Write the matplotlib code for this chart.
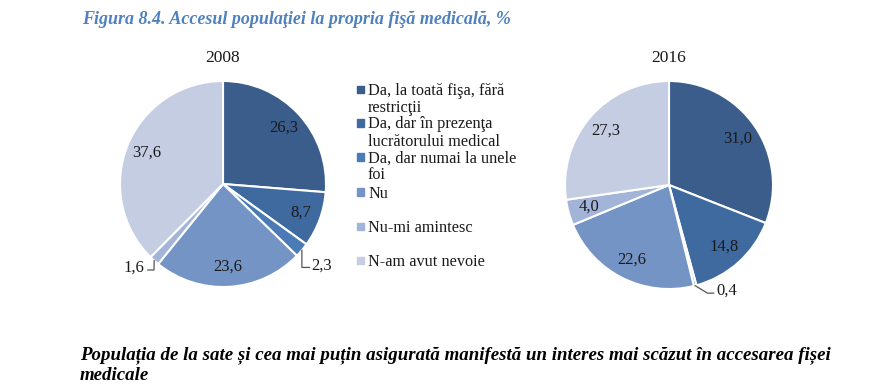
import numpy as np
import matplotlib
matplotlib.use("Agg")
import matplotlib.pyplot as plt

# data
categories = [
    ["Da, la toată fişa, fără", "restricţii"],
    ["Da, dar în prezenţa", "lucrătorului medical"],
    ["Da, dar numai la unele", "foi"],
    ["Nu"],
    ["Nu-mi amintesc"],
    ["N-am avut nevoie"],
]
values_2008 = [26.3, 8.7, 2.3, 23.6, 1.6, 37.6]
values_2016 = [31.0, 14.8, 0.4, 22.6, 4.0, 27.3]
colors = ["#3a5d8b", "#3f6a9f", "#4a7bb7", "#7394c5", "#a2b4d7", "#c4cde2"]

W, H = 896, 388
plt.rcParams["font.family"] = ["Liberation Serif", "DejaVu Serif"]
fig = plt.figure(figsize=(W / 100, H / 100), dpi=100)

TXT = "#1a1a1a"


def fmt(v):
    return f"{v:.1f}".replace(".", ",")


def pie_axes(cx, cy, r):
    return fig.add_axes([(cx - r) / W, (H - cy - r) / H, 2 * r / W, 2 * r / H])


def draw_pie(ax, values, title, outside):
    wedges, _ = ax.pie(values, colors=colors, startangle=90, counterclock=False,
                       wedgeprops=dict(edgecolor="white", linewidth=1.5))
    ax.set_xlim(-1, 1)
    ax.set_ylim(-1, 1)
    ax.axis("off")
    ax.set_title(title, fontsize=12.5, color=TXT, pad=14)
    for i, (w, v) in enumerate(zip(wedges, values)):
        mid = np.deg2rad((w.theta1 + w.theta2) / 2)
        x, y = np.cos(mid), np.sin(mid)
        if i in outside:
            path, tx, ha = outside[i]
            pts = [(x, y)] + path
            ax.plot([p[0] for p in pts], [p[1] for p in pts], color="#555555",
                    lw=0.9, clip_on=False, solid_joinstyle="miter")
            ax.text(tx, pts[-1][1] + 0.02, fmt(v), ha=ha, va="center",
                    fontsize=12, color=TXT)
        else:
            ax.text(0.8 * x, 0.8 * y, fmt(v), ha="center", va="center",
                    fontsize=12, color=TXT)


ax1 = pie_axes(223, 184, 103)
draw_pie(ax1, values_2008, "2008", {
    2: ([(0.766, -0.81), (0.84, -0.81)], 0.86, "left"),
    4: ([(-0.67, -0.835), (-0.73, -0.835)], -0.76, "right"),
})

ax2 = pie_axes(669, 185, 104)
draw_pie(ax2, values_2016, "2016", {
    2: ([(0.37, -1.04), (0.43, -1.04)], 0.46, "left"),
})

# legend, drawn by hand to match the line layout
leg_y = [89.5, 123, 157, 192, 226, 260]
for lines, c, y in zip(categories, colors, leg_y):
    fig.patches.append(plt.Rectangle((357 / W, (H - y - 3.5) / H), 7 / W, 7 / H,
                                     transform=fig.transFigure, color=c))
    for k, line in enumerate(lines):
        fig.text(368 / W, (H - y - 1.5 - 17 * k) / H, line, ha="left",
                 va="center", fontsize=11.7, color=TXT)

fig.text(82 / W, (H - 19.5) / H,
         "Figura 8.4. Accesul populaţiei la propria fişă medicală, %",
         ha="left", va="center", fontsize=13, color="#4f81bd",
         fontweight="bold", fontstyle="italic")

bottom = ["Populația de la sate și cea mai puțin asigurată manifestă un interes "
          "mai scăzut în accesarea fișei", "medicale"]
for k, line in enumerate(bottom):
    fig.text(80 / W, (H - 355 - 20 * k) / H, line, ha="left", va="center",
             fontsize=13.6, color="black", fontweight="bold", fontstyle="italic")

fig.savefig("out.png", dpi=100)
